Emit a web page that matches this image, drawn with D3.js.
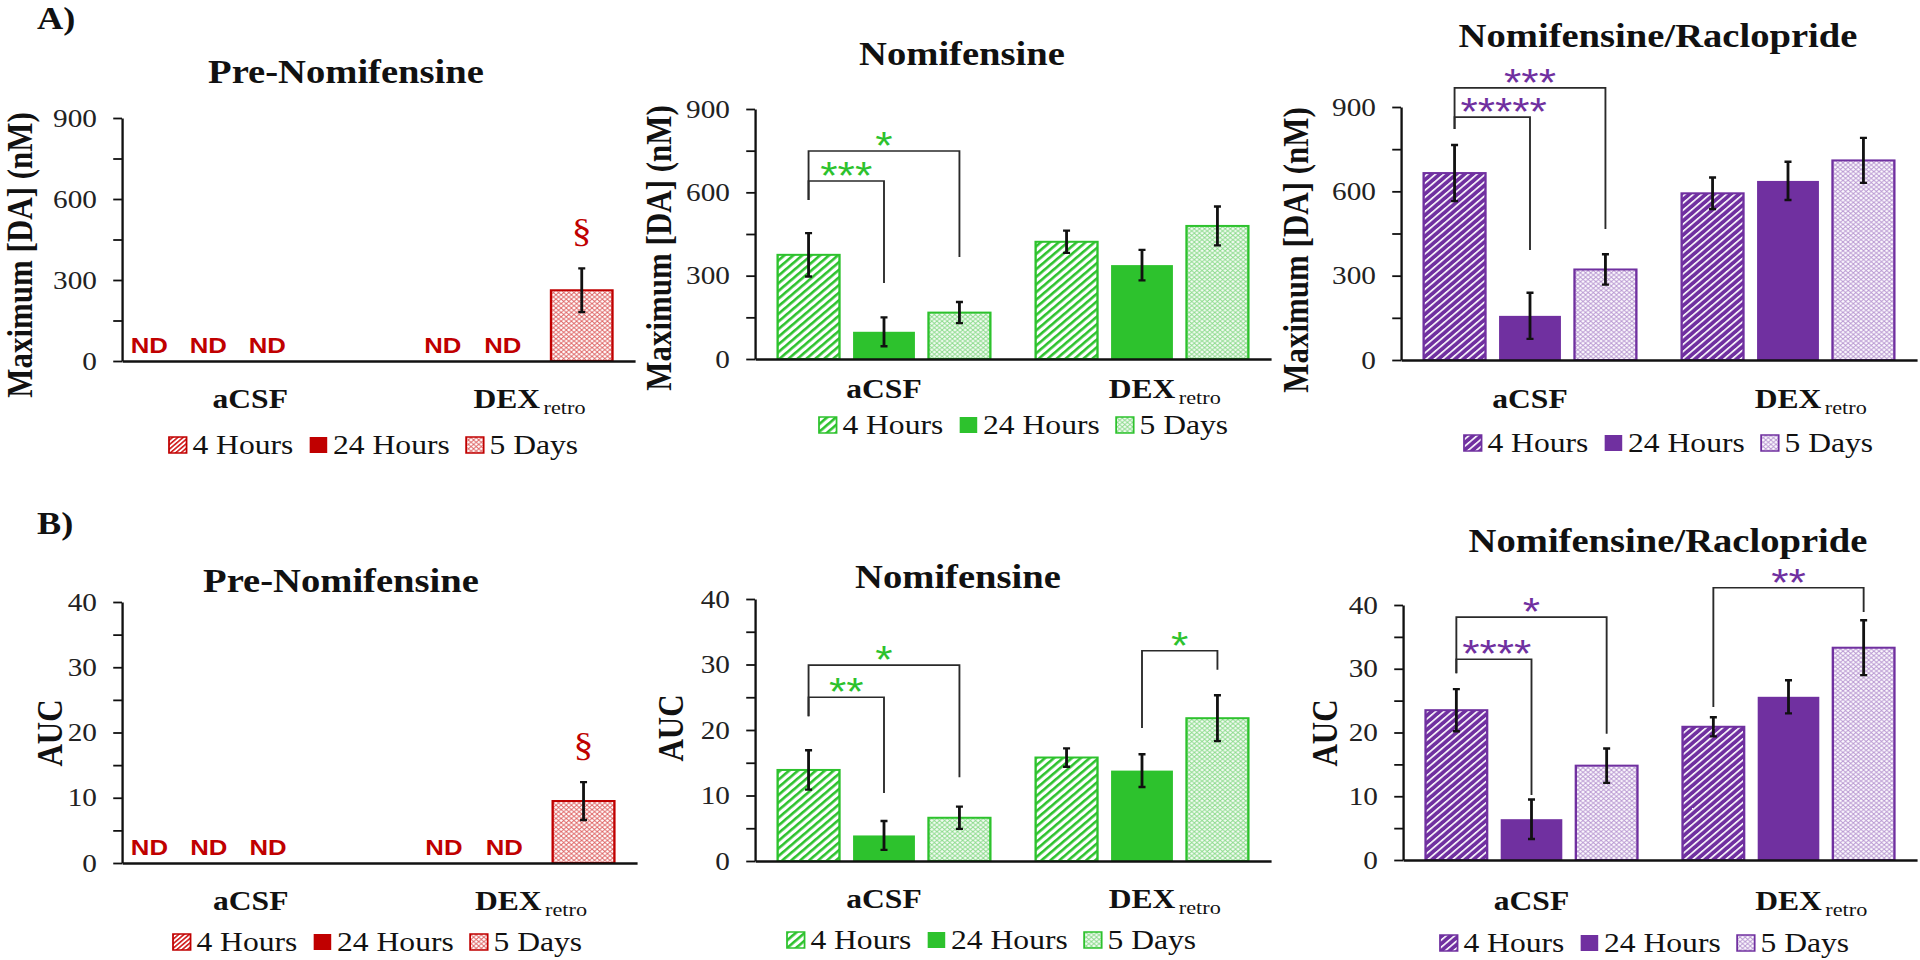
<!DOCTYPE html>
<html>
<head>
<meta charset="utf-8">
<script src="https://cdn.jsdelivr.net/npm/d3@7"></script>
<style>
    body { margin: 0; background: #fff; }
    svg { display: block; }
    text { font-family: "Liberation Serif", "Times New Roman", serif; fill: #111; }
</style>
</head>
<body>
<div id="chart"></div>
<script>
// ---- data ----
const groups = ['aCSF', 'DEX'];
const groupSub = { DEX: 'retro' };
const series = ['4 Hours', '24 Hours', '5 Days'];

const maxTicks = [0, 150, 300, 450, 600, 750, 900];
const maxLabelled = [0, 300, 600, 900];
const aucTicks = [0, 5, 10, 15, 20, 25, 30, 35, 40];
const aucLabelled = [0, 10, 20, 30, 40];

// rows = groups, columns = series; null = not detected
const preMax = [[null, null, null], [null, null, 262]];
const preMaxErr = [[0, 0, 0], [0, 0, 81]];
const nomiMax = [[375, 98, 167], [422, 338, 479]];
const nomiMaxErr = [[78, 52, 38], [40, 55, 70]];
const raclMax = [[665, 157, 322], [593, 637, 710]];
const raclMaxErr = [[100, 82, 54], [56, 68, 80]];

const preAuc = [[null, null, null], [null, null, 9.5]];
const preAucErr = [[0, 0, 0], [0, 0, 2.9]];
const nomiAuc = [[13.9, 3.9, 6.6], [15.8, 13.8, 21.8]];
const nomiAucErr = [[3.0, 2.2, 1.7], [1.4, 2.5, 3.5]];
const raclAuc = [[23.5, 6.4, 14.8], [20.9, 25.6, 33.3]];
const raclAucErr = [[3.3, 3.1, 2.7], [1.5, 2.6, 4.3]];

// significance brackets: group, from series a to b, levels in y units
const nomiMaxSig = [
    { g: 0, a: 0, b: 2, top: 749, left: 572, right: 367, label: '*' },
    { g: 0, a: 0, b: 1, top: 641, left: 572, right: 274, label: '***' }
];
const raclMaxSig = [
    { g: 0, a: 0, b: 2, top: 968, left: 822, right: 466, label: '***' },
    { g: 0, a: 0, b: 1, top: 864, left: 822, right: 391, label: '*****' }
];
const nomiAucSig = [
    { g: 0, a: 0, b: 2, top: 29.9, left: 22.1, right: 12.8, label: '*' },
    { g: 0, a: 0, b: 1, top: 25.0, left: 22.1, right: 10.4, label: '**' },
    { g: 1, a: 1, b: 2, top: 32.1, left: 20.3, right: 29.2, label: '*' }
];
const raclAucSig = [
    { g: 0, a: 0, b: 2, top: 38.1, left: 29.3, right: 19.8, label: '*' },
    { g: 0, a: 0, b: 1, top: 31.5, left: 29.3, right: 10.2, label: '****' },
    { g: 1, a: 0, b: 2, top: 42.7, left: 24.0, right: 38.9, label: '**' }
];

// ---- layout ----
// the original figure is stretched horizontally, so everything is drawn
// in a narrower space and scaled in x
const SX = 1.17;
const ix = v => v / SX;

const themes = {
    red:    { main: '#c00000', hatchBg: '#ffffff', hatchFg: '#d01818', hatchW: 1.5, hatchP: 3.2, latBg: '#ffffff', latFg: '#d02020', latOp: 0.7 },
    green:  { main: '#2dc22d', hatchBg: '#ffffff', hatchFg: '#2dc22d', hatchW: 2.4, hatchP: 5.4, latBg: '#f3fbf3', latFg: '#35c035', latOp: 0.55 },
    purple: { main: '#7030a0', hatchBg: '#7030a0', hatchFg: '#ffffff', hatchW: 1.5, hatchP: 5.0, latBg: '#fcfafe', latFg: '#7434a4', latOp: 0.5 }
};

const ndShift = [[-26, -42, -58], [11, -4, 0]];

const panels = [
    { letter: 'A)', lx0: 37, ly0: 29, title: 'Pre-Nomifensine', theme: 'red', values: preMax, errors: preMaxErr, sig: [],
      yMax: 900, ticks: maxTicks, labelled: maxLabelled, ylab: 'Maximum [DA] (nM)',
      box: { x0: 122, x1: 635, y0: 361, y1: 118, tx: 346, ty: 83, lx: 20, ly: 255, catY: 408, legX: 169, legY: 445 } },
    { title: 'Nomifensine', theme: 'green', values: nomiMax, errors: nomiMaxErr, sig: nomiMaxSig,
      yMax: 900, ticks: maxTicks, labelled: maxLabelled, ylab: 'Maximum [DA] (nM)',
      box: { x0: 755, x1: 1271, y0: 359, y1: 109, tx: 962, ty: 65, lx: 659, ly: 248, catY: 398, legX: 819, legY: 425 } },
    { title: 'Nomifensine/Raclopride', theme: 'purple', values: raclMax, errors: raclMaxErr, sig: raclMaxSig,
      yMax: 900, ticks: maxTicks, labelled: maxLabelled, ylab: 'Maximum [DA] (nM)',
      box: { x0: 1401, x1: 1917, y0: 360, y1: 107, tx: 1658, ty: 47, lx: 1296, ly: 250, catY: 408, legX: 1464, legY: 443 } },
    { letter: 'B)', lx0: 37, ly0: 534, title: 'Pre-Nomifensine', theme: 'red', values: preAuc, errors: preAucErr, sig: [],
      yMax: 40, ticks: aucTicks, labelled: aucLabelled, ylab: 'AUC',
      box: { x0: 122, x1: 637, y0: 863, y1: 602, tx: 341, ty: 592, lx: 50, ly: 733, catY: 910, legX: 173, legY: 942 } },
    { title: 'Nomifensine', theme: 'green', values: nomiAuc, errors: nomiAucErr, sig: nomiAucSig,
      yMax: 40, ticks: aucTicks, labelled: aucLabelled, ylab: 'AUC',
      box: { x0: 755, x1: 1271, y0: 861, y1: 599, tx: 958, ty: 588, lx: 671, ly: 728, catY: 908, legX: 787, legY: 940 } },
    { title: 'Nomifensine/Raclopride', theme: 'purple', values: raclAuc, errors: raclAucErr, sig: raclAucSig,
      yMax: 40, ticks: aucTicks, labelled: aucLabelled, ylab: 'AUC',
      box: { x0: 1403, x1: 1917, y0: 860, y1: 605, tx: 1668, ty: 552, lx: 1325, ly: 733, catY: 910, legX: 1440, legY: 943 } }
];

// ---- drawing ----
const svg = d3.select('#chart').append('svg')
    .attr('width', 1920)
    .attr('height', 960);

const defs = svg.append('defs');
Object.entries(themes).forEach(([k, t]) => {
    const h = defs.append('pattern')
        .attr('id', `hatch-${k}`)
        .attr('patternUnits', 'userSpaceOnUse')
        .attr('width', t.hatchP)
        .attr('height', t.hatchP)
        .attr('patternTransform', 'rotate(45)');
    h.append('rect').attr('width', t.hatchP).attr('height', t.hatchP).attr('fill', t.hatchBg);
    h.append('rect').attr('width', t.hatchW).attr('height', t.hatchP).attr('fill', t.hatchFg);

    const L = 4.4;
    const p = defs.append('pattern')
        .attr('id', `lattice-${k}`)
        .attr('patternUnits', 'userSpaceOnUse')
        .attr('width', L)
        .attr('height', L);
    p.append('rect').attr('width', L).attr('height', L).attr('fill', t.latBg);
    p.append('path')
        .attr('d', `M0,0L${L},${L}M${L},0L0,${L}`)
        .attr('stroke', t.latFg)
        .attr('stroke-width', 0.8)
        .attr('opacity', t.latOp);
});

function fillFor(theme, i) {
    if (i === 0) return `url(#hatch-${theme})`;
    if (i === 1) return themes[theme].main;
    return `url(#lattice-${theme})`;
}

const root = svg.append('g').attr('transform', `scale(${SX},1)`);

panels.forEach(p => drawPanel(p));

function drawPanel(p) {
    const b = p.box;
    const t = themes[p.theme];
    const g = root.append('g');

    const xg = d3.scaleBand().domain(groups).range([ix(b.x0), ix(b.x1)]);
    const xs = d3.scaleBand().domain(series).range([0, xg.bandwidth()])
        .paddingInner(0.18)
        .paddingOuter(0.3);
    const y = d3.scaleLinear().domain([0, p.yMax]).range([b.y0, b.y1]);
    const cx = (gi, si) => xg(groups[gi]) + xs(series[si]) + xs.bandwidth() / 2;

    if (p.letter) {
        root.append('text')
            .attr('x', ix(p.lx0))
            .attr('y', p.ly0)
            .attr('font-size', 31)
            .attr('font-weight', 'bold')
            .text(p.letter);
    }

    // title
    g.append('text')
        .attr('x', ix(b.tx))
        .attr('y', b.ty)
        .attr('text-anchor', 'middle')
        .attr('font-size', 33)
        .attr('font-weight', 'bold')
        .text(p.title);

    // y label
    g.append('text')
        .attr('transform', `translate(${ix(b.lx)},${b.ly}) rotate(-90)`)
        .attr('text-anchor', 'middle')
        .attr('dominant-baseline', 'central')
        .attr('font-size', 31)
        .attr('font-weight', 'bold')
        .text(p.ylab);

    // bars
    p.values.forEach((row, gi) => {
        row.forEach((v, si) => {
            if (v === null) return;
            g.append('rect')
                .attr('x', xg(groups[gi]) + xs(series[si]))
                .attr('y', y(v))
                .attr('width', xs.bandwidth())
                .attr('height', y(0) - y(v))
                .attr('fill', fillFor(p.theme, si))
                .attr('stroke', si === 1 ? 'none' : t.main)
                .attr('stroke-width', 2);
        });
    });

    // error bars
    const cap = 3;
    p.values.forEach((row, gi) => {
        row.forEach((v, si) => {
            const e = p.errors[gi][si];
            if (v === null || !e) return;
            const x = cx(gi, si);
            g.append('path')
                .attr('d', `M${x},${y(v + e)}V${y(v - e)}M${x - cap},${y(v + e)}H${x + cap}M${x - cap},${y(v - e)}H${x + cap}`)
                .attr('stroke', '#111')
                .attr('stroke-width', 2.4)
                .attr('fill', 'none');
            if (p.theme === 'red') {
                g.append('text')
                    .attr('x', x)
                    .attr('y', y(v + e) - 26)
                    .attr('text-anchor', 'middle')
                    .attr('font-size', 34)
                    .style('fill', t.main)
                    .text('\u00a7');
            }
        });
    });

    // ND labels
    p.values.forEach((row, gi) => {
        row.forEach((v, si) => {
            if (v !== null) return;
            g.append('text')
                .attr('x', cx(gi, si) + ix(ndShift[gi][si]))
                .attr('y', b.y0 - 8)
                .attr('text-anchor', 'middle')
                .attr('font-size', 22)
                .attr('font-weight', 'bold')
                .style('font-family', '"Liberation Sans", Arial, sans-serif')
                .style('fill', t.main)
                .text('ND');
        });
    });

    // axes
    const yAxis = d3.axisLeft(y)
        .tickValues(p.ticks)
        .tickSize(7.5)
        .tickSizeOuter(0)
        .tickPadding(14)
        .tickFormat(d => p.labelled.includes(d) ? d : '');
    const ya = g.append('g')
        .attr('transform', `translate(${ix(b.x0)},0)`)
        .call(yAxis)
        .attr('font-family', null)
        .attr('font-size', 25);
    ya.select('.domain').attr('stroke', '#111').attr('stroke-width', 2);
    ya.selectAll('.tick line').attr('stroke', '#111').attr('stroke-width', 1.8);
    ya.selectAll('.tick text').style('fill', '#222');

    const catFont = 27;
    const xAxis = d3.axisBottom(xg)
        .tickSize(0)
        .tickSizeOuter(0)
        .tickPadding(b.catY - b.y0 - 0.71 * catFont);
    const xa = g.append('g')
        .attr('transform', `translate(0,${b.y0})`)
        .call(xAxis)
        .attr('font-family', null)
        .attr('font-size', catFont)
        .attr('font-weight', 'bold');
    xa.select('.domain').attr('stroke', '#111').attr('stroke-width', 2.5);
    xa.selectAll('.tick text').each(function (d) {
        if (!groupSub[d]) return;
        const tx = d3.select(this);
        tx.text(d);
        const w = this.getComputedTextLength();
        tx.attr('text-anchor', 'start').attr('x', -w / 2);
        tx.append('tspan')
            .attr('dx', 3)
            .attr('dy', 6)
            .attr('font-size', 19)
            .attr('font-weight', 'normal')
            .text(groupSub[d]);
    });

    // significance brackets
    p.sig.forEach(s => {
        const xa0 = cx(s.g, s.a);
        const xb0 = cx(s.g, s.b);
        g.append('path')
            .attr('d', `M${xa0},${y(s.left)}V${y(s.top)}H${xb0}V${y(s.right)}`)
            .attr('fill', 'none')
            .attr('stroke', '#2a2a2a')
            .attr('stroke-width', 1.6);
        const st = g.append('text')
            .attr('y', y(s.top) + 8)
            .attr('text-anchor', 'middle')
            .attr('font-size', 38)
            .style('font-family', '"Liberation Sans", Arial, sans-serif')
            .style('fill', t.main)
            .text(s.label);
        const w = st.node().getComputedTextLength();
        st.attr('x', Math.max((xa0 + xb0) / 2, xa0 + w / 2 + 5));
    });

    // legend
    let lx = ix(b.legX);
    series.forEach((s, i) => {
        g.append('rect')
            .attr('x', lx)
            .attr('y', b.legY - 8)
            .attr('width', 15)
            .attr('height', 16)
            .attr('fill', fillFor(p.theme, i))
            .attr('stroke', i === 1 ? 'none' : t.main)
            .attr('stroke-width', 1.5);
        const lt = g.append('text')
            .attr('x', lx + 20)
            .attr('y', b.legY + 9)
            .attr('font-size', 27)
            .text(s);
        lx += 20 + lt.node().getComputedTextLength() + 14;
    });
}
</script>
</body>
</html>
